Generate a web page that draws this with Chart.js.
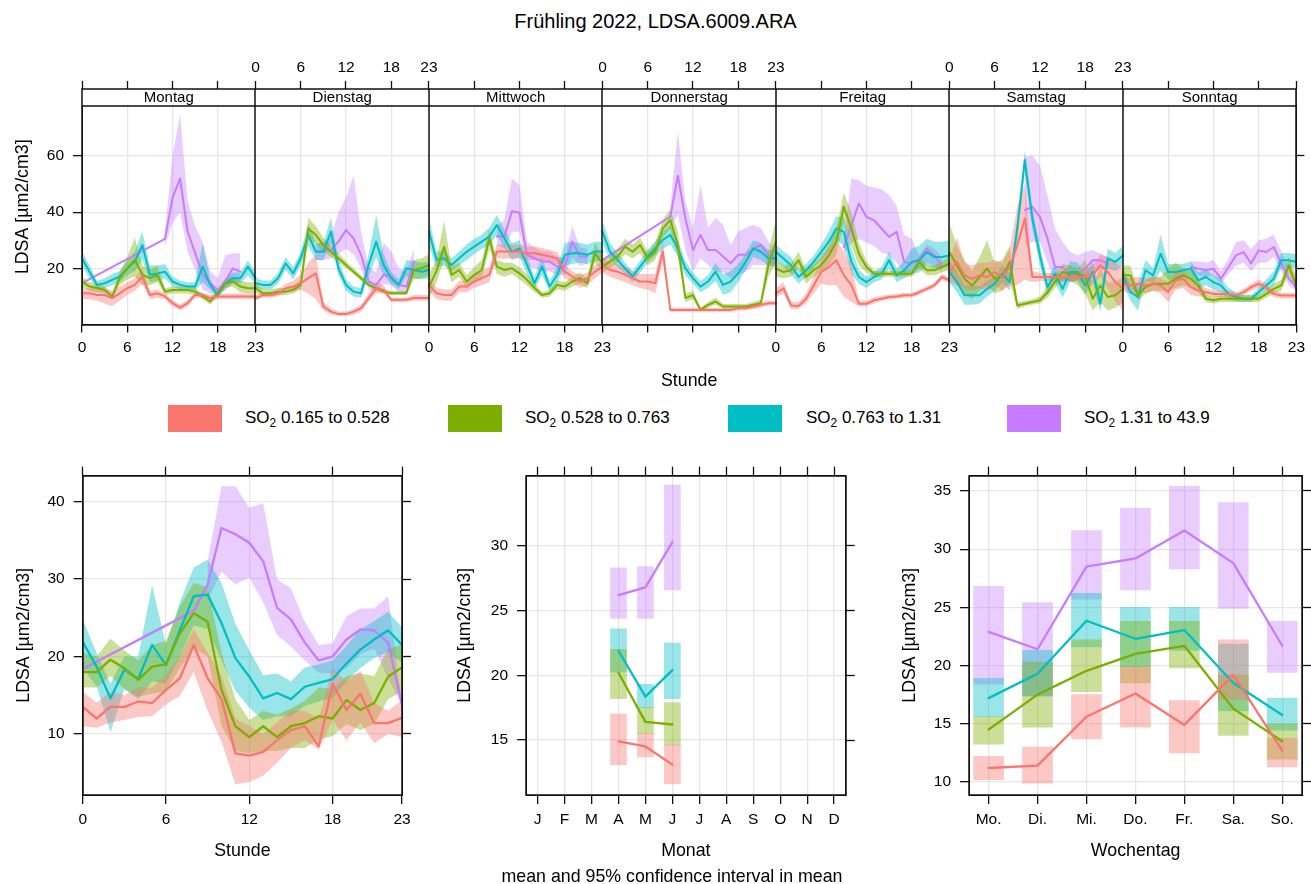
<!DOCTYPE html>
<html><head><meta charset="utf-8">
<script src="https://cdn.jsdelivr.net/npm/chart.js@4.4.0/dist/chart.umd.min.js"></script>
<style>
body{margin:0;width:1311px;height:884px;background:#fff;position:relative;overflow:hidden;font-family:"Liberation Sans",Arial,sans-serif;color:#000;}
canvas,.abs{position:absolute;}
#title{left:0;width:1311px;top:9px;line-height:24px;text-align:center;font-size:20px;}
.sw{width:54px;height:27px;top:405px;}
.lt{top:407px;font-size:17px;line-height:22px;white-space:nowrap;}
.lt sub{font-size:70%;vertical-align:-0.3em;line-height:0;}
#sub{left:372px;width:600px;top:864px;line-height:24px;text-align:center;font-size:17.8px;}
</style></head>
<body>
<div id="title" class="abs">Frühling 2022, LDSA.6009.ARA</div>
<canvas id="cTop" width="1311" height="395" style="left:0;top:0"></canvas>
<div class="abs sw" style="left:168px;background:#F8766D"></div><div class="abs lt" style="left:245px">SO<sub>2</sub> 0.165 to 0.528</div>
<div class="abs sw" style="left:448px;background:#7CAE00"></div><div class="abs lt" style="left:525px">SO<sub>2</sub> 0.528 to 0.763</div>
<div class="abs sw" style="left:728px;background:#00BFC4"></div><div class="abs lt" style="left:806px">SO<sub>2</sub> 0.763 to 1.31</div>
<div class="abs sw" style="left:1007px;background:#C77CFF"></div><div class="abs lt" style="left:1084px">SO<sub>2</sub> 1.31 to 43.9</div>
<canvas id="cHour" width="430" height="444" style="left:0;top:440px"></canvas>
<canvas id="cMonth" width="440" height="444" style="left:430px;top:440px"></canvas>
<canvas id="cWeek" width="441" height="444" style="left:870px;top:440px"></canvas>
<div id="sub" class="abs">mean and 95% confidence interval in mean</div>
<script>
const n = null;
// ---------- categories ----------
const dayNames = ['Montag','Dienstag','Mittwoch','Donnerstag','Freitag','Samstag','Sonntag'];
const seriesNames = ['SO2 0.165 to 0.528','SO2 0.528 to 0.763','SO2 0.763 to 1.31','SO2 1.31 to 43.9'];
const hourTickLabels = [0,6,12,18,23];
const monthLabels = ['J','F','M','A','M','J','J','A','S','O','N','D'];
const monthsPresent = [4,5,6];
const weekdayLabels = ['Mo.','Di.','Mi.','Do.','Fr.','Sa.','So.'];

// ---------- top panel: hour x weekday (7 days x 24 h) ----------
const topRedMean = [
 11.1,11.1,10.5,10.5,9.4,11.1,12.9,14.1,17.1,10.5,11.1,10.0,7.6,6.0,7.6,10.5,10.5,9.4,10.0,10.0,10.0,10.0,10.0,10.0,
 9.4,10.5,10.5,11.1,12.9,13.5,14.7,16.5,18.2,6.4,4.6,3.7,3.7,4.6,5.8,9.4,12.9,12.3,8.8,8.8,8.8,9.4,9.4,9.4,
 14.1,11.1,10.5,10.5,13.5,13.5,15.3,16.5,17.7,26.0,26.0,26.0,26.0,25.4,25.4,24.8,24.2,23.6,18.8,17.1,15.3,16.5,18.8,20.6,
 21.2,19.4,18.8,17.7,16.5,15.3,15.3,14.7,26.0,5.2,5.2,5.2,5.2,5.2,5.2,5.2,5.2,5.2,5.8,5.8,6.4,7.0,7.6,7.6,
 11.1,12.9,6.8,6.6,9.2,13.9,18.7,20.4,22.9,17.6,14.0,7.4,7.4,8.6,9.2,9.8,10.0,10.4,10.4,11.5,12.7,13.9,16.9,15.7,
 18.7,22.3,17.5,16.3,17.5,16.9,18.7,16.9,20.5,28.2,37.7,16.9,16.9,16.9,16.9,16.9,16.9,16.9,16.9,17.5,21.1,18.7,15.1,12.7,
 14.5,13.9,14.5,13.9,14.5,13.9,11.5,15.7,16.3,13.3,12.1,11.5,10.9,10.9,10.9,10.3,11.5,13.3,14.5,13.3,10.9,10.3,10.3,10.3];
const topRedLo = [
 9,9,8.5,7.5,6.5,8.5,10.5,12,14.5,9,9.5,9,6.5,5,6.5,9.5,9.5,8.5,9,9,9,9,9,9,
 8.5,9.5,9.5,10,11.5,12,12.5,11,9,5,3.5,3,3,3.5,4.5,8,11,11,8,8,8,8.5,8.5,8.5,
 12,9,8.5,8.5,11.5,11.5,13,14,15,23.5,23.5,23.5,23.5,23,23,22.5,22,21.5,16.5,15,13,14,16.5,18.5,
 18.5,17,16,15,14,13,12.5,11,22,4.5,4.5,4.5,4.5,4.5,4.5,4.5,4.5,4.5,5,5,5.5,6,6.8,6.8,
 9.5,11,5.5,5.5,7.5,11,14.5,14,14,10,8,6.5,6.5,7.5,8.3,9,9.2,9.6,9.6,10.6,11.8,13,15.8,14.8,
 15,14,13,12,13,12,14,12,14,14,16,15,15.5,15.5,15.5,15.5,15.5,15.5,14,14,17,13,8,5,
 12,11,12,11,12,11,8,12.5,13,10.5,10,10,9.8,9.8,9.8,9.3,10.3,12,13,12,9.8,9.3,9.3,9.3];
const topRedHi = [
 13,13,13,13,12,13.5,15,16.5,20,12,12.5,11,8.8,7,8.8,11.5,11.5,10.5,11,11,11,11,11,11,
 10.5,11.5,11.5,12.5,14.5,15.5,18,22,25,8,5.8,4.5,4.5,5.5,7,11,15,14,9.5,9.5,9.5,10.5,10.5,10.5,
 16,13,12.5,12.5,15.5,15.5,17.5,19,20.5,28.5,28.5,28.5,28.5,27.8,27.8,27.2,26.5,25.8,21,19,17.5,18.5,21,22.5,
 24,22,21.5,20.5,19,18,18,18,30,6,6,6,6,6,6,6,6,6,6.6,6.6,7.3,8,8.5,8.5,
 13,15,8.2,8,11,17,23,27,30,26,21,8.5,8.5,9.7,10.2,10.7,10.9,11.3,11.3,12.4,13.6,14.9,18,16.7,
 22.5,31,22,21,22,22,23,22,27,42,50,19,18.3,18.3,18.3,18.3,18.3,18.3,20,21,25,24,22,20,
 17,16.5,17,16.5,17,16.5,15,19,19.5,16,14.5,13,12,12,12,11.3,12.7,14.6,16,14.6,12,11.3,11.3,11.3];

const topGreenMean = [
 15.3,13.5,13.0,12.3,10.0,16.5,20.0,23.0,17.7,16.5,17.7,11.7,12.3,12.3,12.3,11.7,10.0,8.2,11.1,14.7,15.3,13.5,12.9,12.9,
 12.9,11.1,11.1,11.7,11.7,12.3,14.1,34.2,31.9,28.3,25.9,23.6,21.2,18.8,16.5,14.1,12.9,11.7,11.1,11.1,11.1,19.4,20.0,21.2,
 13.5,19.0,27.7,17.7,19.4,15.3,17.7,19.4,30.7,20.6,19.4,20.0,18.2,15.9,13.0,10.5,11.1,14.1,13.5,15.3,16.5,14.7,25.4,21.8,
 20.6,22.4,24.2,27.7,25.9,28.3,23.6,25.9,34.2,37.2,28.3,9.4,10.5,5.2,7.0,8.2,6.4,6.4,6.4,6.4,7.0,7.6,21.2,29.5,
 19.9,18.7,19.3,22.9,16.9,19.3,21.1,24.6,29.4,41.9,34.2,25.2,20.5,18.1,18.1,18.1,18.1,18.1,18.1,22.3,19.3,19.3,20.5,21.7,
 25.8,21.0,16.3,13.9,16.9,19.9,16.3,16.9,22.3,6.8,7.4,8.0,8.6,11.5,15.1,18.7,18.1,18.1,16.9,9.2,13.9,9.8,10.4,12.7,
 17.5,17.5,10.4,13.3,14.5,14.5,14.5,16.3,17.5,16.3,13.9,9.2,8.6,9.2,9.2,9.2,9.2,9.2,9.2,10.9,12.7,13.9,21.1,13.9];
const topGreenLo = [
 13.5,12,11.5,11,9,14,16,17,14,14,15,10.5,11,11,11,10.5,9,7,10,13,13.5,11.5,11,11,
 11.5,10,10,10.5,10.5,11,12.5,30,29,26,24,22,20,18,15.5,13.5,12,11,10.5,10.5,10.5,16,16.5,17.5,
 9,15,23,15,17,13,15,16,27,18,17,18,16,14,11.5,9.5,10,12.5,12,13.5,14.5,13,22,19,
 18.5,20,22,25,23.5,25.5,21,23,31,34,24,8,9,4.5,6,7,5.5,5.5,5.5,5.5,6,6.5,17,22,
 17,16.5,17,20,14.5,17,18.5,21,25,36,28,21,18.5,17,17,17,17,17,17,20,17.5,17.5,18.5,19.5,
 18,15,11,9,12,14,11,12,15,5.5,6.5,7,7.5,9.5,13,16,15.5,14,11,5,8,5,6,8,
 14,14.5,8.5,11,12,12,12,13,14,13,11.5,8,7.5,8,8,8,8,8,8,9.5,11,12,18,11];
const topGreenHi = [
 17,15,14.5,13.5,11,19,24,31,21,19.5,21,13,13.5,13.5,13.5,13,11,9.5,12.5,16.5,17,15.5,15,15,
 14.5,12.5,12.5,13,13,13.5,16,38,35,31,28,25.5,22.5,20,17.5,15,14,12.5,12,12,12,23,23.5,25,
 18,23,37,20.5,22,17.5,20.5,23,34,23,22,22,20.5,18,14.5,11.5,12.3,15.7,15,17,18.5,16.5,29,24.5,
 23,25,27,30.5,28.5,31,26,29,37.5,41,33,11,12,6,8,9.5,7.3,7.3,7.3,7.3,8,8.8,26,37,
 23,21,21.5,26,19.5,21.5,24,28,34,47,40,29,22.5,19.2,19.2,19.2,19.2,19.2,19.2,24.5,21,21,22.5,24,
 36,28,23,19,24,30,22,23,28,8,8.5,9,10,13.5,17.5,21.5,21,20,23,14,20,15,15,17,
 21,21,12.5,15.5,17,17,20,22,20,19,16.5,10.5,9.7,10.4,10.4,10.4,10.4,10.4,10.4,12.3,14.4,16,24,17];

const topTealMean = [
 23.6,18.8,14.1,14.7,15.9,17.1,20.0,22.4,28.3,17.7,18.2,18.8,15.3,14.1,13.5,13.5,20.6,14.1,10.5,14.7,16.5,16.5,20.6,16.5,
 14.7,14.1,14.1,16.5,21.8,18.2,23.6,31.9,25.9,25.9,33.1,20.0,14.1,11.7,11.1,21.2,29.5,21.2,16.5,14.1,20.0,19.4,18.8,19.4,
 33.1,23.0,23.6,21.2,23.6,25.9,27.7,29.5,31.3,35.4,30.7,25.9,27.1,21.2,14.7,20.6,13.5,17.7,24.8,25.4,25.4,24.8,26.0,26.0,
 33.1,25.9,23.0,20.0,17.1,20.6,24.2,27.1,30.1,31.9,27.1,20.0,16.5,13.5,15.3,18.8,14.1,15.3,18.2,22.4,27.1,25.9,23.6,23.6,
 25.8,23.5,21.1,16.9,19.3,22.3,25.8,29.4,34.2,33.0,22.3,16.9,15.1,16.9,18.1,22.9,17.5,19.3,22.3,22.9,25.8,24.0,24.0,24.6,
 18.7,15.1,10.4,10.4,10.4,12.7,14.5,18.1,15.1,34.2,58.6,37.7,24.6,13.3,18.1,12.7,18.7,18.7,13.9,18.7,7.4,23.5,22.3,24.6,
 17.5,11.5,9.8,19.3,17.5,25.2,18.7,18.7,19.3,19.9,15.7,16.9,15.1,13.9,10.9,9.8,9.2,9.2,11.5,13.9,16.3,22.9,22.9,22.3];
const topTealLo = [
 21,16.5,12.5,13,14,15,17.5,19,23,15,15.5,16.5,13.5,12.5,12,12,15,12.5,9.5,13,14.5,14.5,17.5,14.5,
 13,12.5,12.5,14.5,19.5,16,21,28,23,23,29,17.5,12,10,9.5,17,24,17.5,14.5,12.5,17,16.5,16,16.5,
 28,20,21,19,21,23,25,27,28,32,27,23,24,18,12.5,17.5,11.5,15,21,21.5,22,21.5,22.5,22.5,
 29,23,20.5,18,15,18.5,22,24.5,27,28.5,24,17.5,14.5,11.5,13,15.5,10.5,11.5,15,19.5,24,23,21,21,
 23,20.5,18,14.5,17,20,23,26,30,28,18,14.5,13,15,16,20,15,16.5,18,18.5,21,20,20,20.5,
 15,11.5,7,7,7.5,10,12,15,12,30,54,34,21,10.5,15,9.5,15,15.5,10.5,15,4.5,20,19,21,
 14.5,8.5,5,15.5,15,19,16,16,17,17,13,14,12.5,11.5,9,8.3,8,8,10,12,14,20,20.5,20];
const topTealHi = [
 26,21,15.5,16.5,18,19,22.5,26,33,21,21,21.5,17,15.7,15,15,29,16,11.5,16.5,18.5,18.5,23,18.5,
 16.5,15.7,15.7,18.5,24,20.5,26,36,29,29,38,23,16,13.5,13,25,39,25,18.5,16,23,22.5,22,22.5,
 38,26,26,23.5,26,28.5,30.5,32,34.5,39,34,29,30,24,17,24,15.5,20.5,29,29.5,29,28.5,29.5,29.5,
 37,29,25.5,22,19,22.7,26.5,29.7,33,35.5,30,22.5,18.5,15.5,17.5,22,18,19,21.5,25.5,30,29,26.5,26.5,
 28.5,26,24,19.5,21.5,24.5,28.5,33,38.5,38,27,19.5,17,19,20.5,26,20,22.5,27,28,30.5,29.5,29.5,30,
 22.5,19,14,14,13.5,15.5,17,21,18,38,62,41,28,16,21.5,16,22.5,22,17.5,22.5,11,27,25.5,28,
 20.5,14.5,14.5,23,20,32,21.5,21.5,21.5,22.5,18.5,19.5,17.5,16.5,13,11.5,10.5,10.5,13,16,19,25.5,25.5,25];

const topPurpleMean = [
 14.7,n,n,n,n,n,n,n,n,n,n,30.5,45.0,52.0,33.1,25.4,17.7,14.7,12.3,15.3,20.0,18.8,n,n,
 n,n,n,n,n,n,n,n,25.9,26.5,26.5,29.5,33.6,30.7,24.8,15.3,14.1,17.7,17.1,14.1,13.5,22.4,n,n,
 n,n,n,n,n,n,n,n,n,31.3,31.3,40.3,39.8,24.8,23.6,22.4,22.4,20.6,20.6,29.5,24.2,24.2,n,n,
 23.0,n,n,n,n,n,n,n,n,38.4,53.0,37.7,26.5,31.9,26.5,26.5,24.2,21.8,24.8,24.8,27.1,28.3,24.8,23.0,
 n,n,n,n,n,n,n,n,n,27.6,35.4,43.1,38.3,37.1,34.2,31.2,33.0,22.3,21.7,23.5,27.0,24.6,21.1,n,
 n,n,n,n,n,n,n,n,n,n,40.7,41.9,38.3,30.6,20.5,20.5,17.5,18.1,19.9,22.9,22.9,21.7,n,n,
 n,n,n,n,n,n,n,n,n,20.5,19.9,19.3,19.9,16.3,20.5,24.6,25.8,21.7,26.4,25.8,27.6,21.7,16.3,13.3];
const topPurpleLo = [
 n,n,n,n,n,n,n,n,n,n,n,28,36,40,26,19.4,12.5,11,10.5,12,15,15,n,n,
 n,n,n,n,n,n,n,n,23,23,23.5,25,27,25,20,12.5,11.5,14.5,14,11.5,11,18,n,n,
 n,n,n,n,n,n,n,n,n,28,27,33,33,20.5,20,19,19,17.5,17.5,24,21,21.5,n,n,
 n,n,n,n,n,n,n,n,n,35,39,26.5,18.8,23.6,21.2,18.8,18.8,16.5,17.7,18.8,21.2,21.2,21,20,
 n,n,n,n,n,n,n,n,n,25,29.2,30.4,29.2,28,25.6,24.8,22,18.5,19,20,22,21,18.5,n,
 n,n,n,n,n,n,n,n,n,n,28.5,29.5,29.5,22.2,15,15,15,16,16,18.5,19.5,19.5,n,n,
 n,n,n,n,n,n,n,n,n,18.5,17.5,17,17.5,14.5,18,21,22,19,22,22,24,19,14,12];
const topPurpleHi = [
 n,n,n,n,n,n,n,n,n,n,n,33,60,75,44,35,29.5,19,16.5,24.7,25.4,25.4,n,n,
 n,n,n,n,n,n,n,n,28.5,29.5,31,40,45,53,33,20.5,18.5,29,26,20,18.5,27,n,n,
 n,n,n,n,n,n,n,n,n,35,37.5,52,49.6,29.5,27.5,26,26,24,24,35,27.5,27,n,n,
 n,n,n,n,n,n,n,n,n,42,68.6,43.5,34.4,49.6,34.4,37.9,35.5,28.3,33.1,34.4,35.5,34.4,29.5,26.5,
 n,n,n,n,n,n,n,n,n,30,52,51.4,49.4,48.8,48.2,46,42.3,31.8,30.6,24.6,28.3,27,24,n,
 n,n,n,n,n,n,n,n,n,n,59.6,60.2,56.6,46,34,29.4,25.8,24.6,25.8,26.5,25.2,24,n,n,
 n,n,n,n,n,n,n,n,n,22.5,22.5,22,23,19,23.5,29.5,30,27,30,30.5,32,26,20,15];

// ---------- bottom-left: hour of day ----------
const hourRedMean = [13.5,12,13.5,13.5,14.2,14,15.7,17.2,21.5,17.2,14.5,7.5,7.2,7.7,9.2,10.5,11,8.4,16.5,13.1,15.2,11.4,11.4,12.1];
const hourRedLo   = [11,10.8,11.5,11.8,12.2,12.3,13.8,14.9,18,13,9,3.5,3.8,4.6,6.3,8.2,9.2,8,11.8,9.2,11.5,8.8,10,9.6];
const hourRedHi   = [15.5,14,15.5,15,16,16,17.6,20,23.5,20.5,17.5,12,11,10,11.5,13,13,12,18.5,16.8,18.2,14,13,14.4];
const hourGreenMean = [18,18,19.6,18.5,17,18.7,19,23,25.6,24.5,15.7,11,9.6,11,9.6,11,11.4,12.3,12,14.4,13.1,14,17.4,18.6];
const hourGreenLo   = [16,16,17.5,15.8,14.8,15.2,15.5,18.5,21,20,11,7.8,7.5,7.8,7.8,8.2,8.2,9.3,9.7,11.3,10.5,11.3,14.5,15.5];
const hourGreenHi   = [20.5,20,22.3,20.8,19.5,21.5,22,26.5,29.5,29,20.5,14.5,11.8,13,12.5,13.3,14.3,16,15.8,17.5,17.8,17.5,21,21.5];
const hourTealMean = [21.9,18.7,14.6,18.3,17.1,21.5,18.9,23.4,27.8,28,24.3,19.8,17.4,14.6,15.3,14.5,16.1,16.6,17.1,19.1,20.9,22.2,23.4,21.5];
const hourTealLo   = [18.5,16.2,10.2,15.8,14.5,16.8,16.5,20,24,23.6,19.5,15.6,13.4,11.8,12.3,12.3,13.6,14.2,14.6,16.8,18.5,19.8,20.6,19.2];
const hourTealHi   = [24.8,20.5,16.5,20,20,29.2,21.5,27,31.5,32.5,29.5,24.2,20.8,17.6,17.8,16.8,18.6,19,19.5,21.4,23.5,24.6,25.8,23.8];
const hourPurpleMean = [18.4,n,n,n,n,n,n,n,25.9,29.3,36.6,35.8,34.7,32.3,26.3,24.8,21.8,19.5,20,22.2,23.5,23.4,21.8,13.8];
const hourPurpleLo   = [n,n,n,n,n,n,n,n,n,27.3,31,29.3,30.2,27,22.8,21.3,19.5,17.9,17.8,18.5,20.3,21,17.2,13.6];
const hourPurpleHi   = [n,n,n,n,n,n,n,n,n,32.3,42,42,39.2,39.8,30,28.8,24.5,21.5,21.7,25.2,26.2,26.2,27.8,14];

// ---------- bottom-middle: month ----------
const monthRedMean = [14.9,14.5,13.1], monthRedLo = [13.1,13.7,11.6], monthRedHi = [17.0,15.5,14.6];
const monthGreenMean = [20.2,16.4,16.2], monthGreenLo = [18.2,15.5,14.6], monthGreenHi = [22.0,17.5,17.9];
const monthTealMean = [21.9,18.35,20.4], monthTealLo = [20.25,17.5,18.2], monthTealHi = [23.6,19.3,22.5];
const monthPurpleMean = [26.2,26.8,30.3], monthPurpleLo = [24.4,24.4,26.6], monthPurpleHi = [28.3,28.4,34.7];

// ---------- bottom-right: weekday ----------
const wdRedMean = [11.2,11.4,15.6,17.6,14.9,19.2,12.7], wdRedLo = [10.2,9.9,13.7,14.7,12.5,17.1,11.3], wdRedHi = [12.2,13.0,17.5,19.9,17.0,22.2,13.75];
const wdGreenMean = [14.5,17.5,19.55,21.0,21.7,16.3,13.5], wdGreenLo = [13.25,14.7,17.75,18.5,19.8,14.0,11.96], wdGreenHi = [15.6,20.3,22.2,23.8,23.8,19.2,15.0];
const wdTealMean = [17.2,19.3,23.85,22.3,23.05,18.5,15.75], wdTealLo = [15.6,17.4,21.6,19.9,21.3,16.1,14.45], wdTealHi = [18.9,21.3,26.2,25.0,25.0,21.85,17.2];
const wdPurpleMean = [22.9,21.4,28.5,29.2,31.6,28.8,21.7], wdPurpleLo = [18.4,17.4,25.7,26.5,28.3,24.9,19.4], wdPurpleHi = [26.8,25.4,31.6,33.5,35.4,34.0,23.8];

// ---------- styling ----------
const FONT = '"Liberation Sans", Arial, sans-serif';
const colors = ['#F8766D','#7CAE00','#00BFC4','#C77CFF'];
const bands = ['rgba(248,118,109,0.4)','rgba(124,174,0,0.4)','rgba(0,191,196,0.4)','rgba(199,124,255,0.38)'];
const GRID = '#e6e6e6';
const TICKFONT = {family: FONT, size: 15.5};
const TITLEFONT = {family: FONT, size: 17.8};
Chart.defaults.font.family = FONT;
Chart.defaults.color = '#000';

const boxPlugin = {
  id: 'box',
  afterDatasetsDraw(chart) {
    const {ctx, chartArea: a} = chart;
    ctx.save();
    ctx.strokeStyle = '#111'; ctx.lineWidth = 1.5;
    ctx.strokeRect(Math.round(a.left), Math.round(a.top), Math.round(a.right - a.left), Math.round(a.bottom - a.top));
    ctx.restore();
  }
};

function pts(arr, xs) {
  const out = [];
  arr.forEach((v, i) => { if (v !== null) out.push({x: xs[i], y: v}); });
  return out;
}
function bandSets(lo, hi, xs, i) {
  return [
    {type:'line', data: pts(lo, xs), borderColor:'rgba(0,0,0,0)', borderWidth:0, pointRadius:0, fill:false, order:3},
    {type:'line', data: pts(hi, xs), borderColor:'rgba(0,0,0,0)', borderWidth:0, pointRadius:0, fill:'-1', backgroundColor: bands[i], order:3}
  ];
}
function lineSet(mean, xs, i, w) {
  return {type:'line', data: pts(mean, xs), borderColor: colors[i], borderWidth: w, pointRadius:0, fill:false, spanGaps:true, order:1, borderJoinStyle:'round', borderCapStyle:'round'};
}
function fixedTicks(vals) { return s => { s.ticks = vals.map(v => ({value: v})); }; }

// ---------- top chart ----------
const topSeries = [
  [topRedMean, topRedLo, topRedHi],
  [topGreenMean, topGreenLo, topGreenHi],
  [topTealMean, topTealLo, topTealHi],
  [topPurpleMean, topPurpleLo, topPurpleHi]
];
const topDatasets = [];
topSeries.forEach((s, i) => {
  for (let d = 0; d < 7; d++) {
    const xs = Array.from({length: 24}, (_, h) => d * 23 + h);
    const sl = a => a.slice(d * 24, d * 24 + 24);
    topDatasets.push(...bandSets(sl(s[1]), sl(s[2]), xs, i));
    topDatasets.push(lineSet(sl(s[0]), xs, i, 2));
  }
});
const topTicks = [];
for (let d = 0; d < 7; d++) for (const h of [0, 6, 12, 18]) topTicks.push(d * 23 + h);
topTicks.push(161);
function topLabel(v, where) {
  const d = Math.floor(v / 23), h = v - d * 23;
  if (h === 0 && v > 0) {
    const prevEven = (d - 1) % 2 === 0;
    if (where === 'bottom') return prevEven ? '23' : (d % 2 === 0 && d < 7 ? '0' : '');
    return !prevEven ? '23' : (d % 2 === 1 && d < 7 ? '0' : '');
  }
  const show = where === 'bottom' ? d % 2 === 0 : d % 2 === 1;
  return show ? String(h) : '';
}
const stripPlugin = {
  id: 'strip',
  afterDatasetsDraw(chart) {
    const {ctx, chartArea: a, scales: {x}} = chart;
    const top = a.top, bot = a.top + 16.5;
    ctx.save();
    ctx.fillStyle = '#fff';
    ctx.fillRect(a.left, top, a.right - a.left, bot - top);
    ctx.strokeStyle = '#111'; ctx.lineWidth = 1.5;
    ctx.beginPath();
    ctx.moveTo(a.left, Math.round(bot)); ctx.lineTo(a.right, Math.round(bot));
    for (let d = 1; d < 7; d++) {
      const px = Math.round(x.getPixelForValue(d * 23));
      ctx.moveTo(px, a.top); ctx.lineTo(px, a.bottom);
    }
    ctx.stroke();
    ctx.fillStyle = '#000';
    ctx.font = '15px ' + FONT;
    ctx.textAlign = 'center'; ctx.textBaseline = 'middle';
    dayNames.forEach((nm, d) => {
      const cx = (x.getPixelForValue(d * 23) + x.getPixelForValue(d * 23 + 23)) / 2;
      ctx.fillText(nm, cx, (top + bot) / 2 + 0.5);
    });
    ctx.restore();
  }
};
const common = {responsive:false, animation:false, events:[], devicePixelRatio:1,
  plugins:{legend:{display:false}, tooltip:{enabled:false}}, layout:{padding:0}};

new Chart(document.getElementById('cTop'), {
  type:'line',
  data:{datasets: topDatasets},
  options: Object.assign({}, common, {
    scales:{
      x:{type:'linear', position:'bottom', min:0, max:161, afterBuildTicks: fixedTicks(topTicks),
        ticks:{autoSkip:false, maxRotation:0, minRotation:0, font:TICKFONT, color:'#000', padding:6, callback: v => topLabel(v, 'bottom')},
        grid:{color: c => (c.tick && c.tick.value % 23 === 0) ? 'rgba(0,0,0,0)' : GRID, lineWidth:1.3, tickColor:'#111', tickWidth:1.3, tickLength:8},
        border:{display:true, color:'#111'},
        title:{display:true, text:'Stunde', font:TITLEFONT, color:'#000', padding:{top:0, bottom:3}},
        afterFit: s => { s.height = 70.5; }},
      x2:{type:'linear', position:'top', min:0, max:161, afterBuildTicks: fixedTicks(topTicks),
        ticks:{autoSkip:false, maxRotation:0, minRotation:0, font:TICKFONT, color:'#000', padding:4, callback: v => topLabel(v, 'top')},
        grid:{drawOnChartArea:false, tickColor:'#111', tickWidth:1.3, tickLength:8},
        border:{display:true, color:'#111'},
        afterFit: s => { s.height = 89; }},
      y:{type:'linear', position:'left', min:0, max:83.85, afterBuildTicks: fixedTicks([20,40,60]),
        ticks:{font:TICKFONT, color:'#000', padding:9},
        grid:{color:GRID, lineWidth:1.3, tickColor:'#111', tickWidth:1.3, tickLength:9},
        border:{display:true, color:'#111'},
        title:{display:true, text:'LDSA [µm2/cm3]', font:TITLEFONT, color:'#000', padding:{top:12, bottom:0}},
        afterFit: s => { s.width = 82; }},
      y2:{type:'linear', position:'right', min:0, max:83.85, afterBuildTicks: fixedTicks([20,40,60]),
        ticks:{display:false},
        grid:{drawOnChartArea:false, tickColor:'#111', tickWidth:1.3, tickLength:8},
        border:{display:true, color:'#111'},
        afterFit: s => { s.width = 9; }}
    }
  }),
  plugins:[stripPlugin, boxPlugin]
});

// ---------- small charts ----------
function smallChart(id, o) {
  return new Chart(document.getElementById(id), {
    type:'line',
    data:{datasets: o.datasets},
    options: Object.assign({}, common, {
      scales:{
        x:{type:'linear', position:'bottom', min:o.xmin, max:o.xmax, offset:false, afterBuildTicks: fixedTicks(o.xticks),
          ticks:{autoSkip:false, maxRotation:0, minRotation:0, font:TICKFONT, color:'#000', padding:6, callback:o.xlabel},
          grid:{color:GRID, lineWidth:1.3, offset:false, tickColor:'#111', tickWidth:1.3, tickLength:9},
          border:{display:true, color:'#111'},
          title:{display:true, text:o.xtitle, font:TITLEFONT, color:'#000', padding:{top:0, bottom:22}},
          afterFit: s => { s.height = 89; }},
        x2:{type:'linear', position:'top', min:o.xmin, max:o.xmax, afterBuildTicks: fixedTicks(o.xticks),
          ticks:{display:false}, grid:{drawOnChartArea:false, tickColor:'#111', tickWidth:1.3, tickLength:9},
          border:{display:true, color:'#111'},
          afterFit: s => { s.height = 35.7; }},
        y:{type:'linear', position:'left', min:o.ymin, max:o.ymax, afterBuildTicks: fixedTicks(o.yticks),
          ticks:{font:TICKFONT, color:'#000', padding:9},
          grid:{color:GRID, lineWidth:1.3, tickColor:'#111', tickWidth:1.3, tickLength:9},
          border:{display:true, color:'#111'},
          title:{display:true, text:'LDSA [µm2/cm3]', font:TITLEFONT, color:'#000', padding:{top:o.ytitlePad, bottom:0}},
          afterFit: s => { s.width = o.leftW; }},
        y2:{type:'linear', position:'right', min:o.ymin, max:o.ymax, afterBuildTicks: fixedTicks(o.yticks),
          ticks:{display:false}, grid:{drawOnChartArea:false, tickColor:'#111', tickWidth:1.3, tickLength:9},
          border:{display:true, color:'#111'},
          afterFit: s => { s.width = o.rightW; }}
      }
    }),
    plugins:[boxPlugin]
  });
}

// hour chart
const hourXs = Array.from({length: 24}, (_, h) => h);
const hourSeries = [
  [hourRedMean, hourRedLo, hourRedHi],
  [hourGreenMean, hourGreenLo, hourGreenHi],
  [hourTealMean, hourTealLo, hourTealHi],
  [hourPurpleMean, hourPurpleLo, hourPurpleHi]
];
const hourDatasets = [];
hourSeries.forEach((s, i) => { hourDatasets.push(...bandSets(s[1], s[2], hourXs, i)); hourDatasets.push(lineSet(s[0], hourXs, i, 2.3)); });
smallChart('cHour', {datasets: hourDatasets, xmin:0, xmax:23, xticks: hourTickLabels, xlabel: v => String(v), xtitle:'Stunde',
  ymin:2.12, ymax:43.36, yticks:[10,20,30,40], leftW:82.7, rightW:28, ytitlePad:13.3});

// bar+line helper for month / weekday
function boxDatasets(series, xs, thick) {
  const out = [];
  series.forEach((s, i) => {
    out.push({type:'bar', data: xs.map((x, k) => ({x: x, y: [s[1][k], s[2][k]]})), backgroundColor: bands[i], borderWidth:0, barThickness: thick, grouped:false, order:3});
  });
  series.forEach((s, i) => { out.push(lineSet(s[0], xs, i, 2.3)); });
  return out;
}
const monthSeries = [
  [monthRedMean, monthRedLo, monthRedHi],
  [monthGreenMean, monthGreenLo, monthGreenHi],
  [monthTealMean, monthTealLo, monthTealHi],
  [monthPurpleMean, monthPurpleLo, monthPurpleHi]
];
smallChart('cMonth', {datasets: boxDatasets(monthSeries, monthsPresent, 16), xmin:0.57, xmax:12.43,
  xticks: monthLabels.map((_, i) => i + 1), xlabel: v => monthLabels[v - 1] || '', xtitle:'Monat',
  ymin:10.75, ymax:35.43, yticks:[15,20,25,30], leftW:96, rightW:24.3, ytitlePad:24.8});

const wdSeries = [
  [wdRedMean, wdRedLo, wdRedHi],
  [wdGreenMean, wdGreenLo, wdGreenHi],
  [wdTealMean, wdTealLo, wdTealHi],
  [wdPurpleMean, wdPurpleLo, wdPurpleHi]
];
smallChart('cWeek', {datasets: boxDatasets(wdSeries, weekdayLabels.map((_, i) => i + 1), 30), xmin:0.6, xmax:7.41,
  xticks: weekdayLabels.map((_, i) => i + 1), xlabel: v => weekdayLabels[v - 1] || '', xtitle:'Wochentag',
  ymin:8.88, ymax:36.31, yticks:[10,15,20,25,30,35], leftW:99, rightW:8.7, ytitlePad:29.8});
</script>
</body></html>
